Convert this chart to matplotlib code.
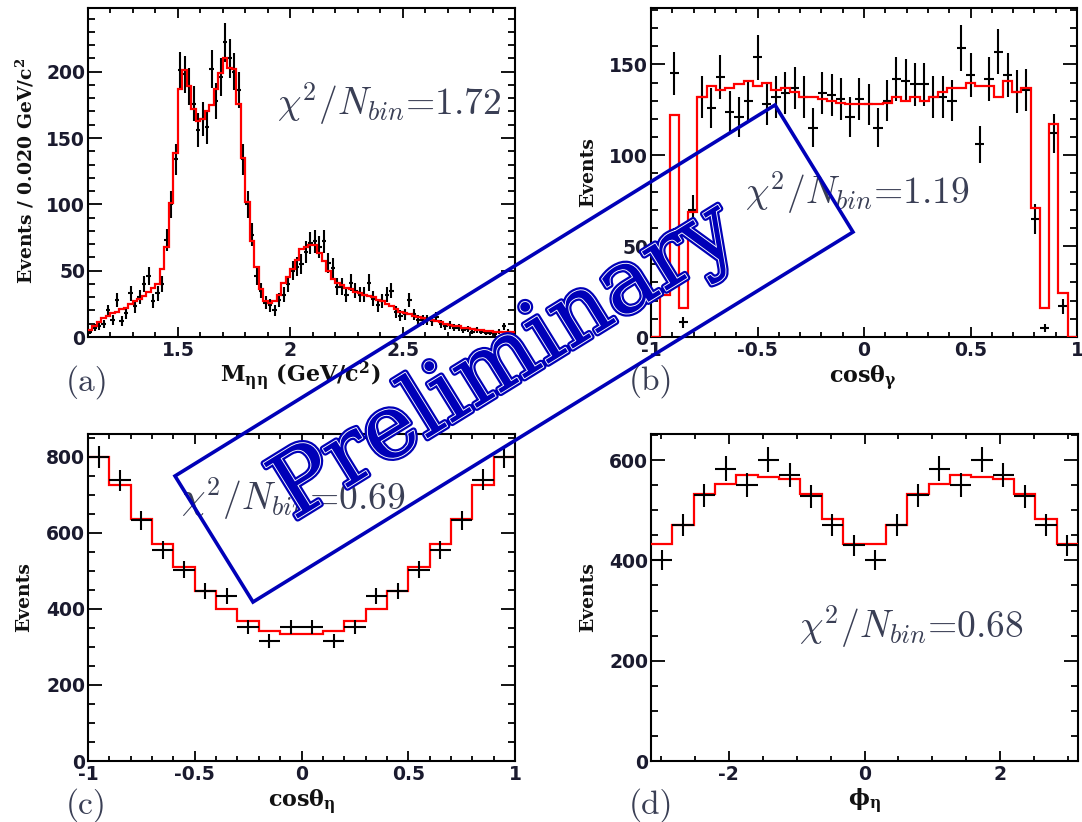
import numpy as np
import matplotlib
matplotlib.use("Agg")
import matplotlib.pyplot as plt
from matplotlib.ticker import FixedLocator, MultipleLocator, FuncFormatter
import matplotlib.patheffects as pe
from matplotlib.patches import Polygon

plt.rcParams['axes.unicode_minus'] = False

# ---------------- data ----------------
# (a) M(eta eta): 95 bins of 0.020 GeV/c^2 from 1.1 to 3.0
a_range = (1.1, 3.0)
a_fit = [5.5, 8, 11, 14, 16, 18, 19, 21, 22, 25,
         27, 29, 31, 34, 37, 40, 51, 68, 101, 139,
         187, 201, 189, 172, 163, 164, 170, 175, 187, 199,
         210, 203, 202, 176, 135, 102, 72, 53, 36, 27,
         25.7, 27, 32, 41, 45, 51, 58, 66, 68, 69,
         69, 63, 57, 50, 44, 41, 39, 37, 36, 34,
         33, 32, 31, 30, 28, 27, 25, 23, 21, 19,
         18, 17, 16, 15, 14, 13, 12.6, 12, 11, 10,
         9, 8.6, 8, 7, 6.5, 6, 5.5, 5, 4.5, 4.3,
         4, 4, 3.8, 3.8, 3.5]
a_data = [4, 7, 8, 10, 20, 13, 28, 12, 18, 33,
          23, 30, 40, 46, 27, 33, 40, 73, 100, 134,
          201, 198, 189, 176, 156, 164, 158, 202, 178, 196,
          222, 210, 200, 186, 134, 100, 77, 46, 35, 26,
          24, 20, 28, 32, 40, 50, 53, 55, 64, 71,
          72, 68, 72, 56, 52, 38, 38, 32, 41, 35,
          32, 32, 41, 29, 24, 27, 32, 35, 19, 16,
          17, 28, 17, 13, 13, 13, 12, 15, 10, 8,
          9, 7, 7, 5, 6, 4, 5, 4, 3, 3,
          2, 4, 8, 4, 2]

# (b) cos(theta_gamma): 46 bins from -1 to 1
b_range = (-1.0, 1.0)
b_fit = [0, 23, 122, 16, 69, 132, 138, 136, 137, 139,
         141, 138, 140, 136, 137, 135, 132, 132, 131, 130,
         129, 128, 128, 128, 128, 129, 132, 130, 132, 130,
         132, 135, 137, 137, 140, 138, 138, 132, 141, 135,
         137, 71, 16, 117, 24, 0]
b_data = [0, 0, 145, 8, 70, 132, 126, 143, 124, 121,
          130, 154, 128, 132, 134, 137, 132, 115, 134, 133,
          131, 121, 131, 128, 115, 130, 142, 141, 139, 139,
          132, 132, 130, 159, 144, 106, 142, 157, 144, 135,
          136, 65, 5, 112, 17, 0]

# (c) cos(theta_eta): 20 bins from -1 to 1
c_range = (-1.0, 1.0)
c_fit = [800, 725, 637, 571, 510, 448, 400, 367, 341, 334,
         334, 341, 367, 400, 448, 510, 571, 637, 725, 800]
c_data = [800, 738, 633, 554, 503, 448, 435, 353, 316, 352,
          352, 316, 353, 435, 448, 503, 554, 633, 740, 800]

# (d) phi_eta: 20 bins from -pi to pi
d_range = (-np.pi, np.pi)
d_fit = [432, 470, 532, 553, 570, 567, 563, 532, 483, 432,
         432, 470, 532, 553, 570, 567, 563, 532, 483, 432]
d_data = [400, 470, 530, 583, 550, 601, 570, 528, 470, 430,
          400, 470, 530, 583, 550, 601, 570, 528, 470, 430]

chi2_texts = ['1.72', '1.19', '0.69', '0.68']

# ---------------- figure ----------------
W, H = 1082, 822
fig = plt.figure(figsize=(W / 100, H / 100), dpi=100)


def fx(x):
    return x / W


def fy(y):
    return 1 - y / H


def add_ax(l, t, r, b):
    return fig.add_axes([fx(l), fy(b), (r - l) / W, (b - t) / H])


TXT = '#3a3f55'
TICKC = '#1a1a2e'


def draw(ax, rng, fit, data, red_on_top):
    n = len(fit)
    edges = np.linspace(rng[0], rng[1], n + 1)
    centers = 0.5 * (edges[:-1] + edges[1:])
    half = 0.5 * np.diff(edges)
    d = np.array(data, float)
    m = d > 0
    ax.stairs(fit, edges, color='#ff0000', lw=1.6, baseline=None,
              zorder=5 if red_on_top else 3)
    ax.errorbar(centers[m], d[m], xerr=half[m], yerr=np.sqrt(d[m]),
                fmt='none', ecolor='black', elinewidth=1.5, capsize=0,
                zorder=4)


def fmt(v, pos):
    return f'{v:g}'


def style(ax, xlim, ylim, xmaj, xminstep, ymajstep, yminstep):
    ax.set_xlim(*xlim)
    ax.set_ylim(*ylim)
    ax.xaxis.set_major_locator(FixedLocator(xmaj))
    ax.xaxis.set_minor_locator(MultipleLocator(xminstep))
    ax.yaxis.set_major_locator(MultipleLocator(ymajstep))
    ax.yaxis.set_minor_locator(MultipleLocator(yminstep))
    ax.xaxis.set_major_formatter(FuncFormatter(fmt))
    ax.yaxis.set_major_formatter(FuncFormatter(fmt))
    ax.tick_params(which='both', direction='in', top=True, right=True,
                   width=1.3, color='black', labelcolor=TICKC)
    ax.tick_params(axis='x', which='major', length=7, pad=3)
    ax.tick_params(axis='x', which='minor', length=3.8)
    ax.tick_params(axis='y', which='major', length=10, pad=2)
    ax.tick_params(axis='y', which='minor', length=5)
    for lab in ax.get_xticklabels() + ax.get_yticklabels():
        lab.set_fontfamily('DejaVu Sans')
        lab.set_fontweight('bold')
        lab.set_fontsize(13.5)
    for s in ax.spines.values():
        s.set_linewidth(1.5)


axA = add_ax(88, 8, 515, 337)
axB = add_ax(651, 8, 1077, 337)
axC = add_ax(88, 434, 515, 761)
axD = add_ax(651, 434, 1078, 761)

draw(axA, a_range, a_fit, a_data, True)
draw(axB, b_range, b_fit, b_data, True)
draw(axC, c_range, c_fit, c_data, False)
draw(axD, d_range, d_fit, d_data, False)

style(axA, a_range, (0, 248), [1.5, 2.0, 2.5], 0.1, 50, 10)
style(axB, b_range, (0, 181), [-1, -0.5, 0, 0.5, 1], 0.1, 50, 10)
style(axC, c_range, (0, 860), [-1, -0.5, 0, 0.5, 1], 0.1, 200, 50)
style(axD, d_range, (0, 652), [-2, 0, 2], 0.5, 200, 50)

# axis titles
lab_kw = dict(family='DejaVu Serif', weight='bold', color='#111111',
              math_fontfamily='dejavuserif')
fig.text(fx(25), fy(171), 'Events / 0.020 GeV/c$^{\\mathbf{2}}$', rotation=90,
         ha='center', va='center', fontsize=13.5, **lab_kw)
fig.text(fx(588), fy(172), 'Events', rotation=90, ha='center', va='center',
         fontsize=13.5, **lab_kw)
fig.text(fx(24), fy(597), 'Events', rotation=90, ha='center', va='center',
         fontsize=13.5, **lab_kw)
fig.text(fx(588), fy(597), 'Events', rotation=90, ha='center', va='center',
         fontsize=13.5, **lab_kw)

fig.text(fx(300), fy(376), 'M$_{\\mathbf{\\eta\\eta}}$ (GeV/c$^{\\mathbf{2}}$)',
         ha='center', va='center', fontsize=16, **lab_kw)
fig.text(fx(863), fy(378), 'cos$\\mathbf{\\theta}_{\\mathbf{\\gamma}}$',
         ha='center', va='center', fontsize=16, **lab_kw)
fig.text(fx(302), fy(802), 'cos$\\mathbf{\\theta}_{\\mathbf{\\eta}}$',
         ha='center', va='center', fontsize=16, **lab_kw)
fig.text(fx(864), fy(801), '$\\mathbf{\\phi}_{\\mathbf{\\eta}}$',
         ha='center', va='center', fontsize=16, **lab_kw)

# panel letters
for txt, (x, y) in zip(['(a)', '(b)', '(c)', '(d)'],
                       [(87, 382), (651, 381), (86, 805), (651, 805)]):
    fig.text(fx(x), fy(y), txt, ha='center', va='center',
             fontsize=24, color=TXT, family='cmr10')

# chi2 texts
for val, (x, y) in zip(chi2_texts, [(389, 104), (857, 193), (293, 499), (911, 627)]):
    fig.text(fx(x), fy(y), '$\\chi^2/N_{bin}$=' + val, ha='center',
             va='center', fontsize=27, color=TXT, family='cmr10',
             math_fontfamily='cm')

# Preliminary watermark
BLUE = '#0000b8'
box = Polygon([(fx(175), fy(476)), (fx(775), fy(105)), (fx(853), fy(232)),
               (fx(253), fy(602))], closed=True, fill=False, edgecolor=BLUE,
              lw=2.6, transform=fig.transFigure, zorder=20)
fig.add_artist(box)
fig.text(fx(505), fy(362), 'Preliminary', rotation=31.7, rotation_mode='anchor',
         ha='center', va='center', fontsize=64, family='DejaVu Serif',
         color=BLUE, zorder=21,
         path_effects=[pe.Stroke(linewidth=4.5, foreground=BLUE),
                       pe.Stroke(linewidth=1.3, foreground='white'),
                       pe.Normal()])

fig.savefig('out.png', dpi=100)
